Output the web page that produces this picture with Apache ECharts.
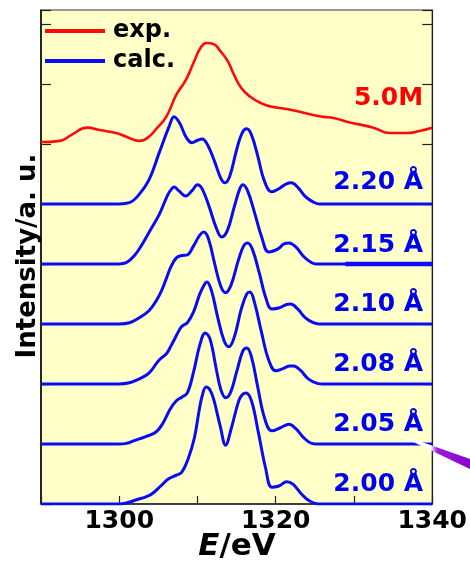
<!DOCTYPE html>
<html><head><meta charset="utf-8">
<script src="https://cdn.jsdelivr.net/npm/echarts@6/dist/echarts.min.js"></script>
<style>html,body{margin:0;padding:0;background:#fff}#c{width:470px;height:565px}</style>
</head><body><div id="c"></div>
<script>
// ---- data ----
const xLabelValues = [1300, 1320, 1340];
const calcNames = ['2.00 Å', '2.05 Å', '2.08 Å', '2.10 Å', '2.15 Å', '2.20 Å'];
const calcOffsets = [0, 1, 2, 3, 4, 5];
const labelY = [0.32, 1.33, 2.33, 3.32, 4.30, 5.35];
const expLabel = '5.0M';
const expLabelY = 6.75;
const labelX = 1338.9;

const calc200 = [[1290,0],[1300,0],[1301.0,0.02],[1302.2,0.07],[1303.4,0.12],[1304.2,0.17],[1305.3,0.3],[1306.3,0.42],[1307.3,0.48],[1308.0,0.53],[1308.8,0.75],[1309.6,1.1],[1310.2,1.55],[1310.6,1.8],[1311.1,1.95],[1311.6,1.9],[1312.1,1.73],[1312.9,1.3],[1313.6,0.98],[1314.3,1.25],[1315.3,1.73],[1315.8,1.83],[1316.2,1.85],[1316.9,1.72],[1317.8,1.18],[1318.7,0.6],[1319.5,0.28],[1320.4,0.3],[1321.4,0.37],[1322.2,0.33],[1323.2,0.18],[1324.2,0.06],[1325.5,0],[1340,0]];
const calc205 = [[1290,0],[1300,0],[1300.9,0.01],[1302.0,0.06],[1303.3,0.12],[1304.7,0.2],[1305.6,0.35],[1306.5,0.58],[1307.3,0.72],[1308.0,0.78],[1308.7,0.85],[1309.5,1.2],[1310.3,1.65],[1311.0,1.85],[1311.6,1.75],[1312.4,1.25],[1313.0,0.9],[1313.6,0.77],[1314.2,0.85],[1315.0,1.2],[1315.8,1.55],[1316.3,1.6],[1316.9,1.45],[1317.7,0.95],[1318.6,0.42],[1319.5,0.22],[1320.6,0.27],[1321.7,0.33],[1322.6,0.25],[1323.6,0.1],[1324.6,0.01],[1325.3,0],[1340,0]];
const calc208 = [[1290,0],[1300,0],[1301.3,0.02],[1302.5,0.08],[1303.8,0.18],[1305.1,0.4],[1306.0,0.5],[1306.6,0.63],[1307.6,0.88],[1308.0,0.96],[1308.7,1.02],[1309.5,1.2],[1310.3,1.5],[1311.0,1.68],[1311.2,1.7],[1311.8,1.55],[1312.6,1.1],[1313.4,0.72],[1314.0,0.62],[1314.7,0.78],[1315.6,1.25],[1316.3,1.5],[1316.7,1.53],[1317.3,1.35],[1318.2,0.85],[1319.1,0.4],[1320.0,0.22],[1321.0,0.26],[1321.8,0.3],[1322.3,0.3],[1323.2,0.22],[1324.2,0.08],[1325.3,0.01],[1326.1,0],[1340,0]];
const calc210 = [[1290,0],[1300,0],[1301.3,0.02],[1302.5,0.1],[1303.8,0.22],[1304.7,0.38],[1305.4,0.55],[1306.0,0.75],[1306.6,0.95],[1307.3,1.1],[1308.0,1.14],[1308.7,1.15],[1309.5,1.3],[1310.3,1.48],[1310.8,1.53],[1311.4,1.42],[1312.2,1.0],[1313.0,0.62],[1313.6,0.52],[1314.3,0.65],[1315.2,1.05],[1315.9,1.3],[1316.4,1.35],[1317.0,1.25],[1317.9,0.85],[1318.7,0.45],[1319.5,0.25],[1320.5,0.27],[1321.3,0.32],[1321.9,0.33],[1322.8,0.25],[1323.8,0.1],[1324.8,0.02],[1325.5,0],[1340,0]];
const calc215 = [[1290,0],[1300,0],[1300.9,0.02],[1302.0,0.15],[1302.9,0.32],[1304.0,0.57],[1305.1,0.82],[1306.2,1.15],[1306.7,1.25],[1307.0,1.28],[1307.6,1.22],[1308.5,1.13],[1309.3,1.22],[1310.0,1.32],[1310.6,1.25],[1311.5,0.95],[1312.4,0.6],[1313.1,0.45],[1313.8,0.55],[1314.7,0.95],[1315.4,1.25],[1315.8,1.32],[1316.4,1.22],[1317.3,0.85],[1318.2,0.45],[1319.1,0.2],[1320.3,0.25],[1321.0,0.33],[1321.7,0.35],[1322.6,0.28],[1323.6,0.12],[1324.6,0.02],[1325.2,0],[1340,0]];
const calc220 = [[1290,0],[1300,0],[1301.3,0.02],[1302.5,0.15],[1303.8,0.4],[1305.1,0.85],[1306.4,1.3],[1307.0,1.45],[1307.7,1.35],[1308.6,1.1],[1309.3,1.02],[1310.0,1.06],[1310.6,1.08],[1311.3,0.98],[1312.2,0.7],[1313.0,0.42],[1313.5,0.35],[1314.1,0.45],[1315.0,0.9],[1315.7,1.18],[1316.3,1.25],[1316.9,1.15],[1317.7,0.8],[1318.5,0.4],[1319.5,0.2],[1320.5,0.26],[1321.3,0.33],[1322.0,0.35],[1322.8,0.28],[1323.8,0.12],[1324.8,0.03],[1325.5,0],[1340,0]];
const thick215 = [[1328.9,0],[1340,0]];
const exp5M = [[1290,6.03],[1292.4,6.05],[1293.9,6.15],[1295.9,6.27],[1297.5,6.23],[1299.6,6.18],[1300.9,6.12],[1302.5,6.05],[1303.6,6.1],[1304.8,6.26],[1306.0,6.45],[1307.3,6.82],[1308.5,7.06],[1309.5,7.35],[1310.4,7.6],[1311.2,7.68],[1312.1,7.66],[1312.9,7.55],[1313.9,7.37],[1314.6,7.17],[1315.6,6.93],[1316.8,6.78],[1318.1,6.68],[1319.4,6.62],[1321.4,6.58],[1323.2,6.53],[1324.8,6.48],[1326.1,6.45],[1327.4,6.43],[1329.6,6.35],[1330.8,6.32],[1332.5,6.27],[1334.6,6.18],[1336.7,6.18],[1338.5,6.22],[1340,6.27]];

const calcSets = [calc200, calc205, calc208, calc210, calc215, calc220];
const BLUE = '#0a0af5', RED = '#ff0a0a';
const LBLUE = '#0000f0', LRED = '#ff0000';
const FONT = 'DejaVu Sans';

const series = [];
series.push({
  name: 'exp.', type: 'line', data: exp5M, showSymbol: false, smooth: 0.5,
  itemStyle: {color: RED}, lineStyle: {color: RED, width: 2.6}, z: 3
});
calcSets.forEach((d, i) => {
  series.push({
    name: 'calc.', type: 'line', showSymbol: false, smooth: 0.4,
    data: d.map(p => [p[0], p[1] + calcOffsets[i]]),
    itemStyle: {color: BLUE}, lineStyle: {color: BLUE, width: 3}, z: 2
  });
});
series.push({
  name: 'calc.', type: 'line', showSymbol: false,
  data: thick215.map(p => [p[0], p[1] + calcOffsets[4]]),
  itemStyle: {color: BLUE}, lineStyle: {color: BLUE, width: 4.5}, z: 2
});
series.push({
  name: 'labels', type: 'scatter', symbolSize: 1, silent: true, z: 5,
  itemStyle: {color: 'rgba(0,0,0,0)', opacity: 1},
  label: {show: true, position: 'left', distance: 0, fontFamily: FONT, fontWeight: 'bold', fontSize: 25, opacity: 1},
  data: calcNames.map((n, i) => ({value: [labelX, labelY[i]], label: {formatter: n, color: LBLUE}}))
    .concat([{value: [labelX, expLabelY], label: {formatter: expLabel, color: LRED}}])
});

const chart = echarts.init(document.getElementById('c'), null, {renderer: 'canvas'});
chart.setOption({
  animation: false,
  backgroundColor: '#ffffff',
  grid: {left: 41, right: 37, top: 10, bottom: 61, show: true, backgroundColor: '#ffffc8', borderColor: '#333', borderWidth: 1},
  legend: {
    data: ['exp.', 'calc.'], orient: 'vertical', left: 45, top: 19, padding: 0,
    icon: 'rect', itemWidth: 60, itemHeight: 4, itemGap: 6,
    textStyle: {fontFamily: FONT, fontWeight: 'bold', fontSize: 24, color: '#000', padding: [0, 0, 0, 3]}
  },
  xAxis: {
    type: 'value', min: 1290, max: 1340, interval: 10,
    axisLine: {lineStyle: {color: '#222', width: 1.5}},
    axisTick: {inside: true, length: 8, lineStyle: {color: '#222', width: 1.2}},
    splitLine: {show: false},
    axisLabel: {
      margin: 5, fontFamily: FONT, fontWeight: 'bold', fontSize: 25, color: '#000',
      formatter: v => xLabelValues.indexOf(v) >= 0 ? String(v) : ''
    }
  },
  yAxis: [{
    type: 'value', min: 0, max: 8.23, interval: 1, position: 'left',
    axisLine: {show: true, lineStyle: {color: '#000', width: 1.5}},
    axisTick: {show: true, inside: true, length: 10, lineStyle: {color: '#222', width: 1.2}},
    axisLabel: {show: false}, splitLine: {show: false}
  }, {
    type: 'value', min: 0, max: 8.23, interval: 1, position: 'right',
    axisLine: {show: true, lineStyle: {color: '#222', width: 1.2}},
    axisTick: {show: true, inside: true, length: 10, lineStyle: {color: '#222', width: 1.2}},
    axisLabel: {show: false}, splitLine: {show: false}
  }],
  graphic: [
    {type: 'text', x: 28, y: 256, rotation: Math.PI / 2, z: 10,
     style: {text: 'Intensity/a. u.', fontFamily: FONT, fontWeight: 'bold', fontSize: 26, fill: '#000', align: 'center', verticalAlign: 'middle'}},
    {type: 'text', x: 237, y: 547, z: 10,
     style: {text: '{i|E}{n|/eV}', align: 'center', verticalAlign: 'middle',
       rich: {i: {fontFamily: FONT, fontWeight: 'bold', fontStyle: 'italic', fontSize: 31, fill: '#000'},
              n: {fontFamily: FONT, fontWeight: 'bold', fontSize: 31, fill: '#000'}}}},
    {type: 'polygon', z: 20, shape: {points: [[388, 430], [470, 459], [470, 469]]},
     style: {fill: new echarts.graphic.LinearGradient(0, 0, 1, 0, [
       {offset: 0, color: '#ffffff'}, {offset: 0.52, color: '#ffffff'}, {offset: 0.6, color: '#9a20d8'}, {offset: 1, color: '#8a00cc'}])}}
  ],
  series: series
});
</script></body></html>
